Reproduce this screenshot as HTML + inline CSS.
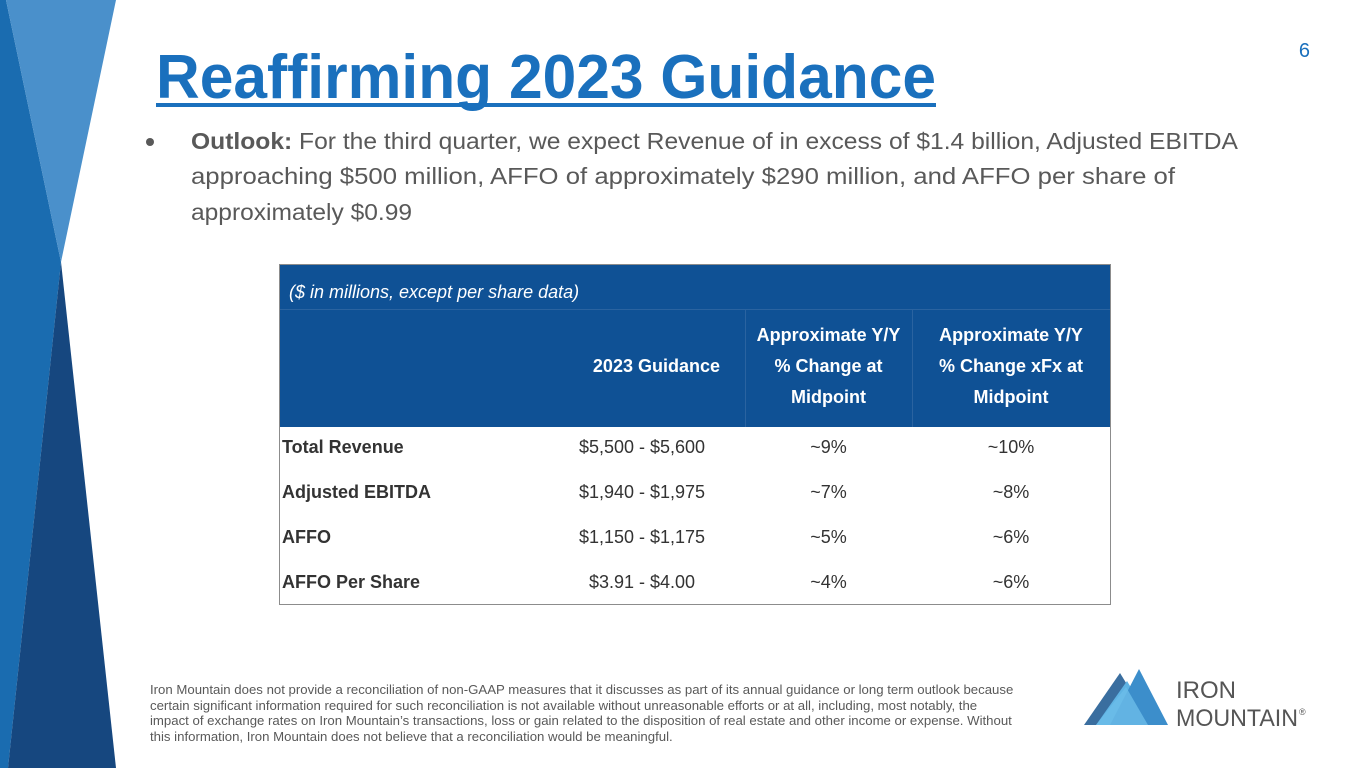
<!DOCTYPE html>
<html><head><meta charset="utf-8"><style>
body{margin:0;width:1365px;height:768px;overflow:hidden;background:#fff;position:relative;font-family:"Liberation Sans",Arial,sans-serif}
.abs{position:absolute}
.c{position:absolute;text-align:center;white-space:nowrap}
.row{font-size:18px;color:#333}
.hd{font-size:18px;color:#fff;font-weight:bold;line-height:31px}
</style></head><body>
<svg class="abs" style="left:0;top:0" width="130" height="768">
<polygon points="0,0 6,0 61,262 8,768 0,768" fill="#1a6cb0"/>
<polygon points="6,0 116,0 61,262" fill="#4a90cb"/>
<polygon points="61,262 116,768 8,768" fill="#16477f"/>
</svg>
<svg class="abs" style="left:0;top:0" width="1365" height="240">
<text x="156" y="98" font-family="Liberation Sans, Arial, sans-serif" font-weight="bold" font-size="62" fill="#1a70bd" textLength="780" lengthAdjust="spacingAndGlyphs">Reaffirming 2023 Guidance</text>
<rect x="156" y="103" width="780" height="4" fill="#1a70bd"/>
<text x="1310" y="57" font-size="20" fill="#1a70bd" text-anchor="end" font-family="Liberation Sans, sans-serif">6</text>
<circle cx="150" cy="142" r="4" fill="#595959"/>
<g font-family="Liberation Sans, Arial, sans-serif" font-size="23.5" fill="#595959">
<text x="191" y="149" textLength="1047" lengthAdjust="spacingAndGlyphs"><tspan font-weight="bold">Outlook:</tspan> For the third quarter, we expect Revenue of in excess of $1.4 billion, Adjusted EBITDA</text>
<text x="191" y="184" textLength="984" lengthAdjust="spacingAndGlyphs">approaching $500 million, AFFO of approximately $290 million, and AFFO per share of</text>
<text x="191" y="220" textLength="221" lengthAdjust="spacingAndGlyphs">approximately $0.99</text>
</g>
</svg>
<div class="abs" style="left:279px;top:264px;width:832px;height:341px;border:1px solid #8c8c8c;box-sizing:border-box">
<div class="abs" style="left:0;top:0;width:830px;height:162px;background:#0f5195"></div>
<div class="abs" style="left:0;top:44px;width:830px;height:1px;background:#2a63a0"></div>
<div class="abs" style="left:465px;top:44px;width:1px;height:118px;background:#2a63a0"></div>
<div class="abs" style="left:632px;top:44px;width:1px;height:118px;background:#2a63a0"></div>
<div class="abs" style="left:9px;top:17px;font-size:18px;font-style:italic;color:#fff">($ in millions, except per share data)</div>
<div class="c hd" style="left:280px;width:160px;text-align:right;top:86px">2023 Guidance</div>
<div class="c hd" style="left:465px;width:167px;top:55px">Approximate Y/Y<br>% Change at<br>Midpoint</div>
<div class="c hd" style="left:632px;width:198px;top:55px">Approximate Y/Y<br>% Change xFx at<br>Midpoint</div>
<div id="rows"></div>
</div>
<div class="abs" style="left:150px;top:682px;font-size:13.2px;line-height:15.5px;color:#595959;white-space:nowrap">Iron Mountain does not provide a reconciliation of non-GAAP measures that it discusses as part of its annual guidance or long term outlook because<br>certain significant information required for such reconciliation is not available without unreasonable efforts or at all, including, most notably, the<br>impact of exchange rates on Iron Mountain’s transactions, loss or gain related to the disposition of real estate and other income or expense. Without<br>this information, Iron Mountain does not believe that a reconciliation would be meaningful.</div>
<svg class="abs" style="left:1082px;top:665px" width="230" height="70">
<polygon points="2,60 38,8 70,60" fill="#3a6e9f"/>
<polygon points="14,60 45,16 72,60" fill="#5fb3e3"/>
<polygon points="28,60 57,4 86,60" fill="#3c8ecb"/>
<polygon points="14,60 44,22 66,60" fill="#6bbde8" opacity="0.8"/>
<text x="94" y="33" font-size="24" fill="#555" font-family="Liberation Sans, sans-serif">IRON</text>
<text x="94" y="61" font-size="24" fill="#555" font-family="Liberation Sans, sans-serif" textLength="122" lengthAdjust="spacingAndGlyphs">MOUNTAIN</text>
<text x="217" y="50" font-size="9" fill="#555" font-family="Liberation Sans, sans-serif">®</text>
</svg>
<script>
const labels=["Total Revenue","Adjusted EBITDA","AFFO","AFFO Per Share"];
const guidance=["$5,500 - $5,600","$1,940 - $1,975","$1,150 - $1,175","$3.91 - $4.00"];
const yy=["~9%","~7%","~5%","~4%"];
const yyx=["~10%","~8%","~6%","~6%"];
const rows=document.getElementById('rows');
labels.forEach((l,i)=>{
 const top=172+i*45;
 const mk=(txt,left,w,bold,name)=>{const d=document.createElement('div');d.className='c row';d.style.left=left+'px';d.style.width=w+'px';d.style.top=top+'px';if(bold){d.style.fontWeight='bold';d.style.textAlign='left';}d.textContent=txt;
 
 
 rows.appendChild(d);};
 mk(l,2,260,true,'row-label');
 mk(guidance[i],282,160,false,'row-guidance');
 mk(yy[i],465,167,false,'row-yy-change');
 mk(yyx[i],632,198,false,'row-yy-xfx-change');
});
</script>
</body></html>
